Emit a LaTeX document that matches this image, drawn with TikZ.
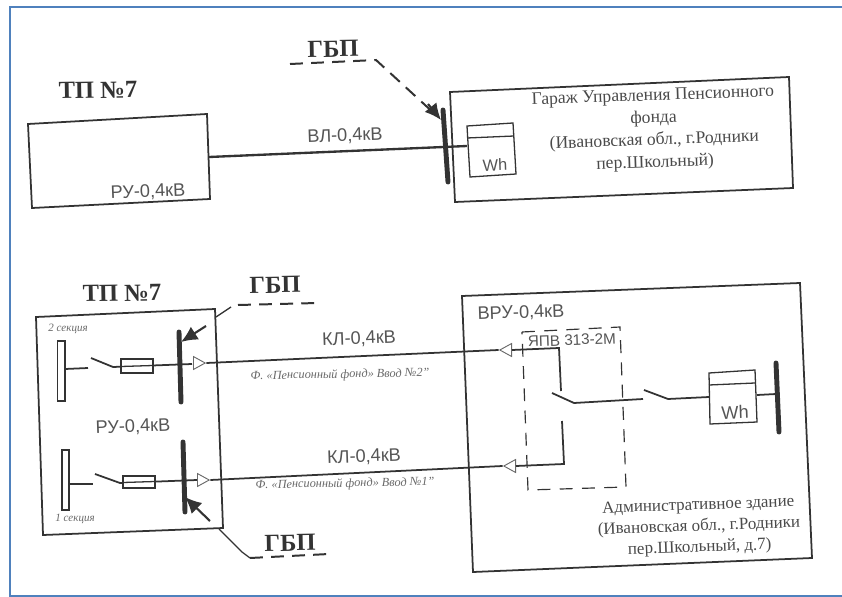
\documentclass[tikz,border=0pt]{standalone}
\usepackage{fontspec}
\setmainfont{Liberation Serif}
\newfontfamily\arialfont{Liberation Sans}
\usepackage{xcolor}
\usetikzlibrary{arrows.meta,shapes.geometric}
\definecolor{inkgray}{HTML}{333333}
\definecolor{softgray}{HTML}{6A6A6A}
\definecolor{framblue}{HTML}{4F81BD}
\tikzset{
	wire/.style={draw=inkgray,line width=1.5pt},
	thinwire/.style={draw=inkgray,line width=1.1pt},
	busbar/.style={draw=inkgray,line width=4.2pt,line cap=round},
	gbpdash/.style={draw=inkgray,line width=1.7pt,dash pattern=on 11pt off 7pt},
	gbparrow/.style={draw=inkgray,line width=1.8pt,-{Latex[length=14pt,width=13pt]}},
	boxdash/.style={draw=inkgray,line width=1pt,dash pattern=on 11pt off 8pt},
	cabletip/.style={isosceles triangle,draw=softgray,fill=white,line width=0.8pt,inner sep=0pt,minimum width=11pt,minimum height=10pt,isosceles triangle stretches},
	rutext/.style={text=softgray!80!black,font=\arialfont\fontsize{15.5}{18}\selectfont,rotate=2},
	addrtext/.style={text=softgray!70!black,font=\fontsize{14.5}{18}\selectfont,rotate=2,align=center},
	tptext/.style={text=inkgray,font=\bfseries\fontsize{21}{24}\selectfont,rotate=1},
	smalltext/.style={text=softgray,font=\itshape\fontsize{9.5}{11}\selectfont,rotate=1},
	feedtext/.style={text=softgray,font=\itshape\fontsize{10.5}{12}\selectfont,rotate=1},
}
\begin{document}
\begin{tikzpicture}[x=0.03cm,y=-0.03cm]
	\useasboundingbox (0,0) rectangle (842,597);
	\fill[white] (0,0) rectangle (842,597);
	\draw[framblue,line width=2pt] (842,7) -- (10,7) -- (10,596) -- (842,596);
	% upper scheme
	\node[tptext] (tpa) at (98,90) {ТП №7};
	\draw[thinwire,line width=1.5pt] (28,124) -- (207,114) -- (210,199) -- (32,208) -- cycle;
	\node[rutext] (rua) at (148,192) {РУ-0,4кВ};
	\draw[thinwire,line width=1.5pt] (450,92) -- (789,77) -- (793,188) -- (455,202) -- cycle;
	\node[addrtext,font=\fontsize{15}{19}\selectfont] (garage) at (654,130) {Гараж Управления Пенсионного\\фонда\\(Ивановская обл., г.Родники\\пер.Школьный)};
	\coordinate (busatop) at (443,110);
	\coordinate (busabot) at (448,182);
	\coordinate (tpaout) at (209,157);
	\coordinate (wha) at (467,146);
	\draw[wire,line width=2pt] (tpaout) -- (wha);
	\node[rutext] (vla) at (345,136) {ВЛ-0,4кВ};
	\draw[busbar] (busatop) -- (busabot);
	\draw[thinwire] (467,126) -- (513,123) -- (516,174) -- (470,177) -- cycle;
	\draw[thinwire] (467,138) -- (514,136);
	\node[rutext,font=\arialfont\fontsize{14}{16}\selectfont] (wha text) at (495,165) {Wh};
	\node[tptext] (gbpa) at (333,49) {ГБП};
	\coordinate (gbpaend) at (376,60);
	\draw[gbpdash] (290,64) -- (gbpaend) -- (437,116);
	\draw[gbparrow] (428,104) -- (441,120);
	% lower scheme
	\node[tptext] (tpb) at (122,293) {ТП №7};
	\draw[thinwire,line width=1.5pt] (36,317) -- (215,309) -- (223,528) -- (43,535) -- cycle;
	\node[smalltext] (seca) at (68,329) {2 секция};
	\node[smalltext] (secb) at (75,519) {1 секция};
	\node[rutext] (rub) at (133,427) {РУ-0,4кВ};
	\draw[thinwire] (57.5,341) rectangle (65,401);
	\draw[thinwire] (62,450) rectangle (69,510);
	\draw[wire] (65,369) -- (88,368);
	\draw[wire] (69,484) -- (93,484);
	\draw[wire] (91,358) -- (113,367) -- (192,364);
	\draw[wire] (95,474) -- (120,483) -- (197,480);
	\draw[thinwire,fill=white] (121,359) rectangle (153,373);
	\draw[thinwire] (121,366.5) -- (153,365.5);
	\draw[thinwire,fill=white] (123,476) rectangle (155,488);
	\draw[thinwire] (123,482.5) -- (155,481.5);
	\draw[busbar] (179,332) -- (181,402);
	\draw[busbar] (183,442) -- (185,512);
	\node[cabletip,anchor=lower side] (tipa) at (193,363) {};
	\node[cabletip,anchor=lower side] (tipb) at (197,480) {};
	\node[cabletip,shape border rotate=180,anchor=lower side] (tipc) at (512,350) {};
	\node[cabletip,shape border rotate=180,anchor=lower side] (tipd) at (516,466) {};
	\draw[wire] (tipa.apex) -- (tipc.apex);
	\draw[wire] (tipb.apex) -- (tipd.apex);
	\node[rutext] (kla) at (359,339) {КЛ-0,4кВ};
	\node[rutext] (klb) at (364,457) {КЛ-0,4кВ};
	\node[feedtext] (feeda) at (340,375) {Ф. «Пенсионный фонд» Ввод №2"};
	\node[feedtext] (feedb) at (345,484) {Ф. «Пенсионный фонд» Ввод №1"};
	\draw[wire] (tipc.lower side) -- (559,348) -- (561,391);
	\draw[wire] (tipd.lower side) -- (564,464) -- (562,421);
	\draw[gbparrow] (206,326) -- (181,342);
	\draw[gbparrow] (210,521) -- (185,497);
	\node[tptext] (gbpb) at (275,285) {ГБП};
	\node[tptext] (gbpc) at (290,543) {ГБП};
	\draw[thinwire] (216,317) -- (231,307);
	\draw[gbpdash] (238,305) -- (318,303);
	\draw[thinwire] (219,529) -- (242,552) -- (250,558);
	\draw[gbpdash] (250,558) -- (329,554);
	% administrative building
	\draw[thinwire,line width=1.5pt] (462,296) -- (800,283) -- (812,558) -- (473,572) -- cycle;
	\node[rutext] (vru) at (521,313) {ВРУ-0,4кВ};
	\draw[boxdash] (522,332) -- (620,327) -- (626,487) -- (528,490) -- cycle;
	\node[rutext,font=\arialfont\fontsize{13}{16}\selectfont] (yapv) at (572,340) {ЯПВ 313-2М};
	\draw[wire] (552,393) -- (574,403) -- (643,399);
	\draw[wire] (644,390) -- (668,399) -- (709,397);
	\draw[thinwire] (709,373) -- (755,370) -- (757,422) -- (710,424) -- cycle;
	\draw[thinwire] (709,385) -- (755,383);
	\node[rutext] (whb) at (735,412) {Wh};
	\draw[wire] (757,395) -- (776,394);
	\draw[busbar] (776,363) -- (779,432);
	\node[addrtext] (admin) at (699,527) {Административное здание\\(Ивановская обл., г.Родники\\пер.Школьный, д.7)};
\end{tikzpicture}
\end{document}
